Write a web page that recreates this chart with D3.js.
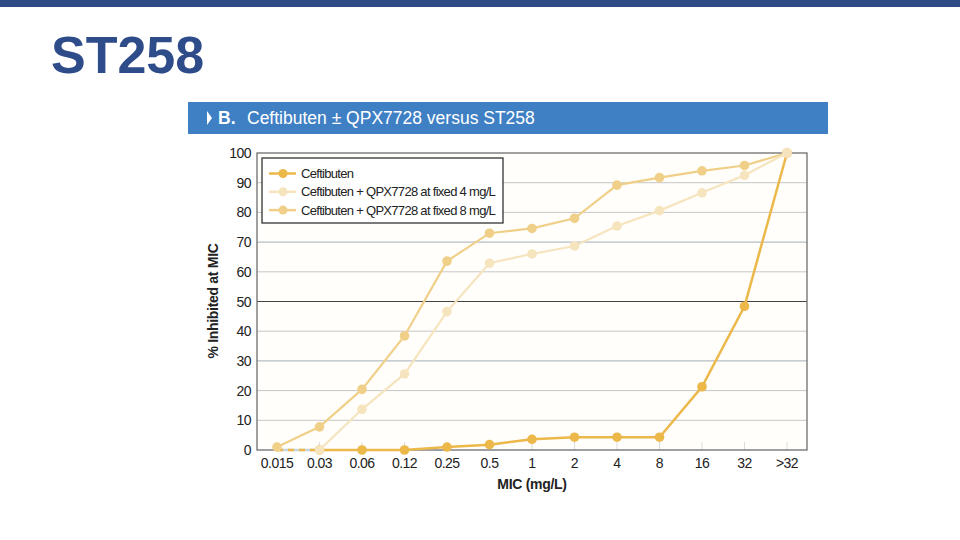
<!DOCTYPE html>
<html><head><meta charset="utf-8">
<script src="https://cdn.jsdelivr.net/npm/d3@7"></script>
<style>body{margin:0;background:#fff;}svg{display:block;font-family:"Liberation Sans",Arial,sans-serif;}</style>
</head><body>
<svg id="c" width="960" height="540"></svg>
<script>
const categories = ["0.015","0.03","0.06","0.12","0.25","0.5","1","2","4","8","16","32",">32"];
const ceftibuten = [0,0,0,0,1,1.8,3.6,4.3,4.3,4.3,21.3,48.4,100];
const plus4 = [null,0,13.7,25.6,46.6,62.9,66,68.7,75.4,80.6,86.6,92.5,100];
const plus8 = [1,7.8,20.4,38.4,63.6,73,74.6,78,89.2,91.7,94,95.8,100];
const yTicks = [0,10,20,30,40,50,60,70,80,90,100];
const seriesNames = ["Ceftibuten","Ceftibuten + QPX7728 at fixed 4 mg/L","Ceftibuten + QPX7728 at fixed 8 mg/L"];

const svg = d3.select("#c");
svg.append("rect").attr("x",0).attr("y",0).attr("width",960).attr("height",7).attr("fill","#2f4b86");
svg.append("text").attr("x",51).attr("y",73).attr("font-size",52).attr("font-weight","bold")
  .attr("fill","#2f4c8a").text("ST258");
svg.append("rect").attr("x",188).attr("y",102).attr("width",640).attr("height",32).attr("fill","#3f80c4");
svg.append("path").attr("d","M207,111 L212,118 L207,125 Z").attr("fill","#fff");
svg.append("text").attr("x",218).attr("y",124).attr("font-size",17.5).attr("fill","#fff")
  .attr("font-weight","bold").text("B.");
svg.append("text").attr("x",247).attr("y",124).attr("font-size",17.5).attr("fill","#fff").text("Ceftibuten ± QPX7728 versus ST258");

const L=257,R=807,T=153,B=450;
const x = d3.scalePoint().domain(categories).range([277,787]);
const y = d3.scaleLinear().domain([0,100]).range([B,T]);

svg.append("rect").attr("x",L).attr("y",T).attr("width",R-L).attr("height",B-T).attr("fill","#fffefb");

const gridColor = v => v===50 ? "#444" : (v===30||v===70 ? "#a4adb6" : "#c6c6c6");
svg.append("g").selectAll("line").data(yTicks.filter(v=>v>0&&v<100)).join("line")
  .attr("x1",L).attr("x2",R).attr("y1",d=>y(d)).attr("y2",d=>y(d))
  .attr("stroke",gridColor).attr("stroke-width",1);

svg.append("g").selectAll("line").data(categories).join("line")
  .attr("x1",d=>x(d)).attr("x2",d=>x(d)).attr("y1",B).attr("y2",B-8)
  .attr("stroke","#dcdcdc").attr("stroke-width",1);

svg.append("rect").attr("x",L).attr("y",T).attr("width",R-L).attr("height",B-T)
  .attr("fill","none").attr("stroke","#6e6e6e").attr("stroke-width",1.3);

svg.append("g").selectAll("text").data(yTicks).join("text")
  .attr("x",251).attr("y",d=>y(d)+5).attr("text-anchor","end").attr("font-size",14).attr("fill","#222")
  .attr("letter-spacing","-0.5").text(d=>d);
svg.append("g").selectAll("text").data(categories).join("text")
  .attr("x",d=>x(d)).attr("y",468).attr("text-anchor","middle").attr("font-size",14).attr("fill","#222")
  .attr("letter-spacing","-0.5").text(d=>d);
svg.append("text").attr("x",532).attr("y",489).attr("text-anchor","middle").attr("font-size",14)
  .attr("font-weight","bold").attr("fill","#222").attr("letter-spacing","-0.3").text("MIC (mg/L)");
svg.append("text").attr("transform","translate(218,301) rotate(-90)").attr("text-anchor","middle")
  .attr("font-size",14).attr("font-weight","bold").attr("fill","#222").attr("letter-spacing","-0.3").text("% Inhibited at MIC");

const colors = ["#ecb84a","#f6e4be","#f0d089"];
const allSeries = [ceftibuten, plus4, plus8];
const ptLine = d3.line().defined(d=>d.v!=null).x(d=>x(categories[d.i])).y(d=>y(d.v));
const drawOrder = [0,2,1];
svg.append("line").attr("x1",x(categories[0])).attr("x2",x(categories[1])).attr("y1",y(0)).attr("y2",y(0))
  .attr("stroke","#c9d3dc").attr("stroke-width",2.5);
drawOrder.forEach(si=>{
  const pts = allSeries[si].map((v,i)=>({v,i}));
  const g = svg.append("g");
  if(si===0){
    g.append("path").datum(pts.slice(0,2)).attr("d",ptLine).attr("fill","none").attr("stroke",colors[si])
      .attr("stroke-width",2.5).attr("stroke-dasharray","6,5");
    g.append("path").datum(pts.slice(1)).attr("d",ptLine)
      .attr("fill","none").attr("stroke",colors[si]).attr("stroke-width",2.5);
  } else {
    g.append("path").datum(pts).attr("d",ptLine).attr("fill","none").attr("stroke",colors[si]).attr("stroke-width",2.2);
  }
  g.selectAll("circle").data((si===0 ? pts.slice(1) : pts).filter(d=>d.v!=null)).join("circle")
    .attr("cx",d=>x(categories[d.i])).attr("cy",d=>y(d.v)).attr("r",4.8).attr("fill",colors[si]);
});

const lg = svg.append("g");
lg.append("rect").attr("x",262).attr("y",158).attr("width",241).attr("height",65).attr("fill","#fff")
  .attr("stroke","#222").attr("stroke-width",1.2);
seriesNames.forEach((n,i)=>{
  const yy = 173.5 + i*18.3;
  lg.append("line").attr("x1",269).attr("x2",296).attr("y1",yy).attr("y2",yy).attr("stroke",colors[i]).attr("stroke-width",2.5);
  lg.append("circle").attr("cx",283).attr("cy",yy).attr("r",4.5).attr("fill",colors[i]);
  lg.append("text").attr("x",301).attr("y",yy+4.5).attr("font-size",13).attr("fill","#222")
    .attr("letter-spacing","-0.7").text(n);
});
</script>
</body></html>
